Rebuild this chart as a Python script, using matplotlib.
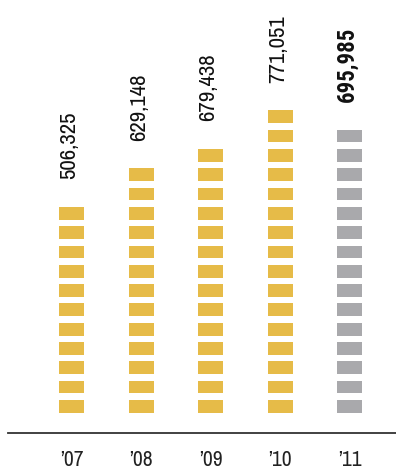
import matplotlib
matplotlib.use("Agg")
import matplotlib.pyplot as plt

# Yearly totals
years = ["\u201907", "\u201908", "\u201909", "\u201910", "\u201911"]
values = [506325, 629148, 679438, 771051, 695985]
labels = ["506,325", "629,148", "679,438", "771,051", "695,985"]

# each stacked block stands for this many units
UNIT = 47500
GOLD = "#E6BB48"
GRAY = "#A9A9AC"

plt.rcParams["font.family"] = ["Archivo Narrow", "DejaVu Sans"]
BOLD_FAMILY = ["Roboto Condensed", "Barlow Condensed", "Fira Sans Extra Condensed", "DejaVu Sans"]

fig = plt.figure(figsize=(3.96, 4.75), dpi=100)
ax = fig.add_axes([8 / 396, 1 - 433 / 475, 388 / 396, 433 / 475])

for i, (v, lab) in enumerate(zip(values, labels)):
    last = i == len(values) - 1
    color = GRAY if last else GOLD
    n = int(round(v / UNIT))
    bottoms = [k * UNIT for k in range(n)]
    ax.bar([i] * n, [0.66 * UNIT] * n, bottom=bottoms, width=0.36,
           color=color, linewidth=0)
    top = bottoms[-1] + 0.66 * UNIT
    style = dict(fontsize=16.5, fontweight="bold", family=BOLD_FAMILY) if last \
        else dict(fontsize=16.5)
    ax.annotate(lab, xy=(i - 0.03, top), xytext=(0, 20),
                textcoords="offset points", rotation=90,
                ha="center", va="bottom", color="#111111", **style)

ax.set_xlim(-0.914, 4.669)
ax.set_ylim(-1.05 * UNIT, 21.38 * UNIT)
ax.set_xticks(range(len(years)))
ax.set_xticklabels(years, fontsize=15.5, color="#222222")
ax.tick_params(axis="x", length=0, pad=12)
ax.set_yticks([])
for side in ("left", "right", "top"):
    ax.spines[side].set_visible(False)
ax.spines["bottom"].set_color("#333333")
ax.spines["bottom"].set_linewidth(1.3)

fig.savefig("out.png", dpi=100)
